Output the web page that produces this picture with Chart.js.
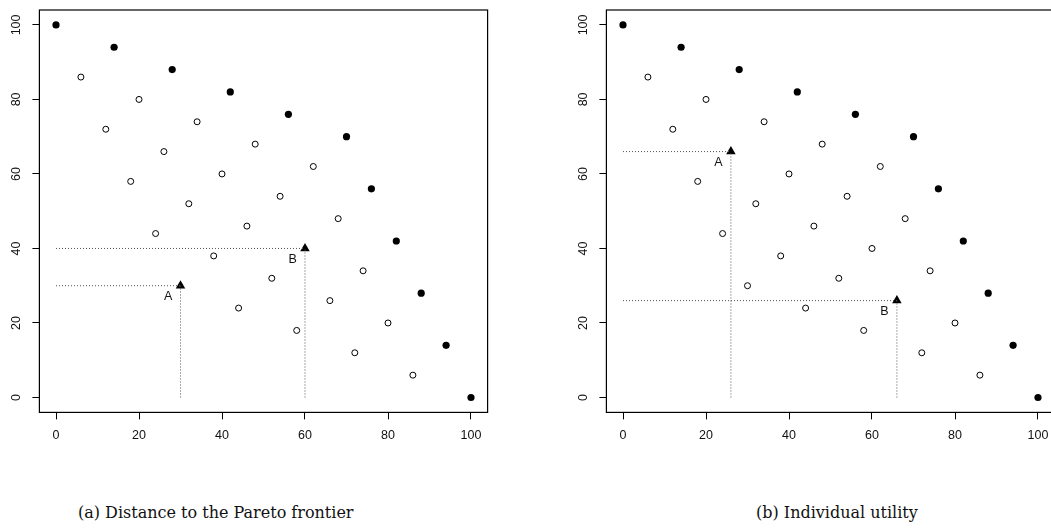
<!DOCTYPE html>
<html lang="en">
<head>
    <meta charset="UTF-8">
    <meta name="viewport" content="width=device-width, initial-scale=1.0">
    <script src="https://cdn.jsdelivr.net/npm/chart.js"></script>
    <title>Pareto frontier</title>
    <style>
        html, body { margin: 0; padding: 0; background: #fff; overflow: hidden; }
        body { width: 1051px; height: 528px; position: relative; }
        .panel { position: absolute; top: 0; width: 525px; height: 470px; }
        #panelA { left: 0; }
        #panelB { left: 567px; }
        .caption {
            position: absolute; top: 503px;
            font-family: "DejaVu Serif", "Liberation Serif", serif;
            font-size: 16px; color: #111; white-space: nowrap;
        }
    </style>
</head>
<body>
    <div class="panel" id="panelA"><canvas id="canvA"></canvas></div>
    <div class="panel" id="panelB"><canvas id="canvB"></canvas></div>
    <div class="caption" style="left:78px">(a) Distance to the Pareto frontier</div>
    <div class="caption" style="left:756px">(b) Individual utility</div>
    <script>
        // pareto frontier (filled dots)
        const frontX = [0, 14, 28, 42, 56, 70, 76, 82, 88, 94, 100]
        const frontY = [100, 94, 88, 82, 76, 70, 56, 42, 28, 14, 0]

        // dominated allocations (open dots), full grid
        const innerX = [6, 12, 18, 24, 30,  20, 26, 32, 38, 44,  34, 40, 46, 52, 58,  48, 54, 60, 66, 72,  62, 68, 74, 80, 86]
        const innerY = [86, 72, 58, 44, 30,  80, 66, 52, 38, 24,  74, 60, 46, 32, 18,  68, 54, 40, 26, 12,  62, 48, 34, 20, 6]

        const tickVals = [0, 20, 40, 60, 80, 100]

        // highlighted points A and B for each panel
        const labels = ['A', 'B']
        const pointsA = [[30, 30], [60, 40]]
        const pointsB = [[26, 66], [66, 26]]

        function zip(xs, ys) {
            return xs.map((x, i) => ({ x: x, y: ys[i] }))
        }

        function guides(p) {
            // dotted lines from the axes to the point
            return [
                [{ x: 0, y: p[1] }, { x: p[0], y: p[1] }],
                [{ x: p[0], y: 0 }, { x: p[0], y: p[1] }]
            ]
        }

        const boxPlugin = {
            id: 'box',
            afterDraw(chart) {
                const ctx = chart.ctx
                const a = chart.chartArea
                ctx.save()
                ctx.strokeStyle = '#000'
                ctx.lineWidth = 1.2
                ctx.strokeRect(a.left, a.top, a.right - a.left, a.bottom - a.top)

                // rotated y tick labels
                const ys = chart.scales.y
                ctx.fillStyle = '#111'
                ctx.font = '12.5px "Liberation Sans", Arial, sans-serif'
                ctx.textAlign = 'center'
                ctx.textBaseline = 'middle'
                tickVals.forEach(v => {
                    const py = ys.getPixelForValue(v)
                    ctx.save()
                    ctx.translate(a.left - 23, py)
                    ctx.rotate(-Math.PI / 2)
                    ctx.fillText(String(v), 0, 0)
                    ctx.restore()
                })

                // point labels, placed at (x-3, y-3)
                const xs = chart.scales.x
                const pts = chart.options.plugins.box.points
                pts.forEach((p, i) => {
                    ctx.fillText(labels[i], xs.getPixelForValue(p[0] - 3), ys.getPixelForValue(p[1] - 3))
                })
                ctx.restore()
            }
        }

        function makeChart(id, pts) {
            const guideSets = []
            pts.forEach(p => {
                guides(p).forEach(seg => {
                    guideSets.push({
                        type: 'line',
                        data: seg,
                        borderColor: '#555',
                        borderWidth: 1,
                        borderDash: [1, 2],
                        pointRadius: 0,
                        showLine: true,
                        fill: false
                    })
                })
            })

            // open dots, skipping the ones that are drawn as triangles
            const open = zip(innerX, innerY).filter(d => !pts.some(p => p[0] == d.x && p[1] == d.y))

            const data = {
                datasets: guideSets.concat([
                    {
                        data: open,
                        pointStyle: 'circle',
                        pointRadius: 3,
                        backgroundColor: '#fff',
                        borderColor: '#000',
                        borderWidth: 1
                    },
                    {
                        data: zip(frontX, frontY),
                        pointStyle: 'circle',
                        pointRadius: 3.6,
                        backgroundColor: '#000',
                        borderColor: '#000',
                        borderWidth: 0
                    },
                    {
                        data: pts.map(p => ({ x: p[0], y: p[1] })),
                        pointStyle: 'triangle',
                        pointRadius: 5.5,
                        backgroundColor: '#000',
                        borderColor: '#000',
                        borderWidth: 0
                    }
                ])
            }

            const config = {
                type: 'scatter',
                data: data,
                options: {
                    responsive: false,
                    animation: false,
                    events: [],
                    layout: { padding: { top: 10, left: 0, right: 37.4, bottom: 0 } },
                    plugins: {
                        legend: { display: false },
                        tooltip: { enabled: false },
                        box: { points: pts }
                    },
                    scales: {
                        x: {
                            type: 'linear', min: -4, max: 104,
                            afterBuildTicks: s => { s.ticks = tickVals.map(v => ({ value: v })) },
                            afterFit: s => { s.height = 57.6 },
                            grid: { drawOnChartArea: false, drawTicks: true, tickLength: 7, color: '#000', lineWidth: 1 },
                            border: { display: false },
                            ticks: { color: '#111', padding: 9, maxRotation: 0, font: { family: '"Liberation Sans", Arial, sans-serif', size: 12.5 } }
                        },
                        y: {
                            type: 'linear', min: -4, max: 104,
                            afterBuildTicks: s => { s.ticks = tickVals.map(v => ({ value: v })) },
                            afterFit: s => { s.width = 39.4 },
                            grid: { drawOnChartArea: false, drawTicks: true, tickLength: 7, color: '#000', lineWidth: 1 },
                            border: { display: false },
                            ticks: { display: false }
                        }
                    }
                },
                plugins: [boxPlugin]
            }

            const canvas = document.getElementById(id)
            canvas.width = 525
            canvas.height = 470
            return new Chart(canvas.getContext('2d'), config)
        }

        makeChart('canvA', pointsA)
        makeChart('canvB', pointsB)
    </script>
</body>
</html>
